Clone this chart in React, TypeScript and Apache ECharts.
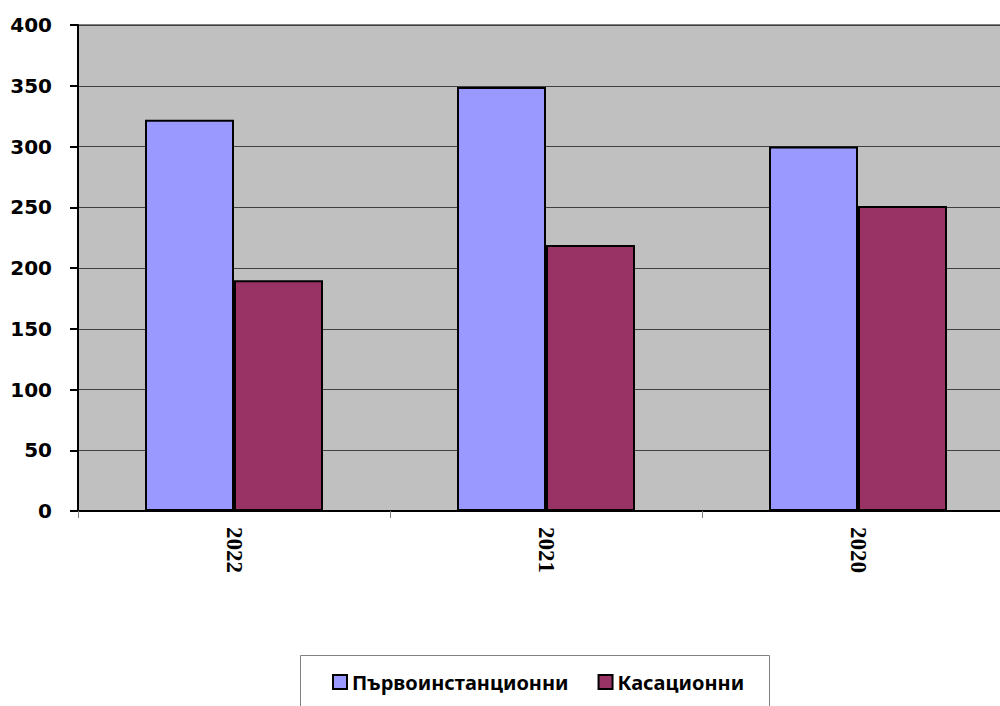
import React, { useEffect, useRef } from "react";
import * as echarts from "echarts";

const categories = ["2022", "2021", "2020"];
const firstInstance = [322, 349, 300];
const cassation = [190, 219, 251];
const seriesNames = ["Първоинстанционни", "Касационни"];

export default function App() {
  const ref = useRef<HTMLDivElement>(null);
  useEffect(() => {
    if (!ref.current) return;
    const chart = echarts.init(ref.current, null, { renderer: "svg" });
    chart.setOption({
      animation: false,
      backgroundColor: "#ffffff",
      grid: {
        left: 78,
        right: -14,
        top: 25,
        bottom: 195,
        show: true,
        backgroundColor: "#c0c0c0",
        borderWidth: 1,
        borderColor: "#000",
        outerBoundsMode: "none",
      },
      legend: {
        left: 327,
        top: 667,
        itemWidth: 14,
        itemHeight: 14,
        itemGap: 29,
        icon: "rect",
        textStyle: {
          fontFamily: "'Noto Sans', sans-serif",
          fontWeight: "bold",
          fontSize: 20,
          color: "#000",
        },
        itemStyle: { borderColor: "#000", borderWidth: 2 },
        data: seriesNames,
      },
      graphic: [
        {
          type: "rect",
          shape: { x: 300.5, y: 655.5, width: 469, height: 80 },
          style: { fill: "none", stroke: "#808080", lineWidth: 1 },
          silent: true,
        },
      ],
      xAxis: {
        type: "category",
        data: categories,
        axisLine: { lineStyle: { color: "#000", width: 2 } },
        axisTick: { show: true, length: 7, lineStyle: { color: "#808080", width: 1 } },
        axisLabel: {
          rotate: -90,
          margin: 16,
          fontFamily: "'Times New Roman', 'Liberation Serif', serif",
          fontWeight: "bold",
          fontSize: 23,
          color: "#000",
        },
        splitLine: { show: false },
      },
      yAxis: {
        type: "value",
        min: 0,
        max: 400,
        interval: 50,
        axisLine: { show: true, lineStyle: { color: "#000", width: 2 } },
        axisTick: { show: true, length: 8, lineStyle: { color: "#000", width: 2 } },
        axisLabel: {
          margin: 26,
          fontFamily: "'DejaVu Sans', sans-serif",
          fontWeight: "bold",
          fontSize: 20,
          color: "#000",
        },
        splitLine: { show: true, lineStyle: { color: "#404040", width: 1 } },
      },
      series: [
        {
          name: seriesNames[0],
          type: "bar",
          data: firstInstance,
          barWidth: 89,
          barGap: "0%",
          itemStyle: { color: "#9999ff", borderColor: "#000", borderWidth: 2 },
        },
        {
          name: seriesNames[1],
          type: "bar",
          data: cassation,
          barWidth: 89,
          barGap: "0%",
          itemStyle: { color: "#993366", borderColor: "#000", borderWidth: 2 },
        },
      ],
    });
    return () => chart.dispose();
  }, []);
  return (
    <div
      ref={ref}
      style={{ position: "fixed", left: 0, top: 0, width: 1000, height: 706 }}
    />
  );
}
